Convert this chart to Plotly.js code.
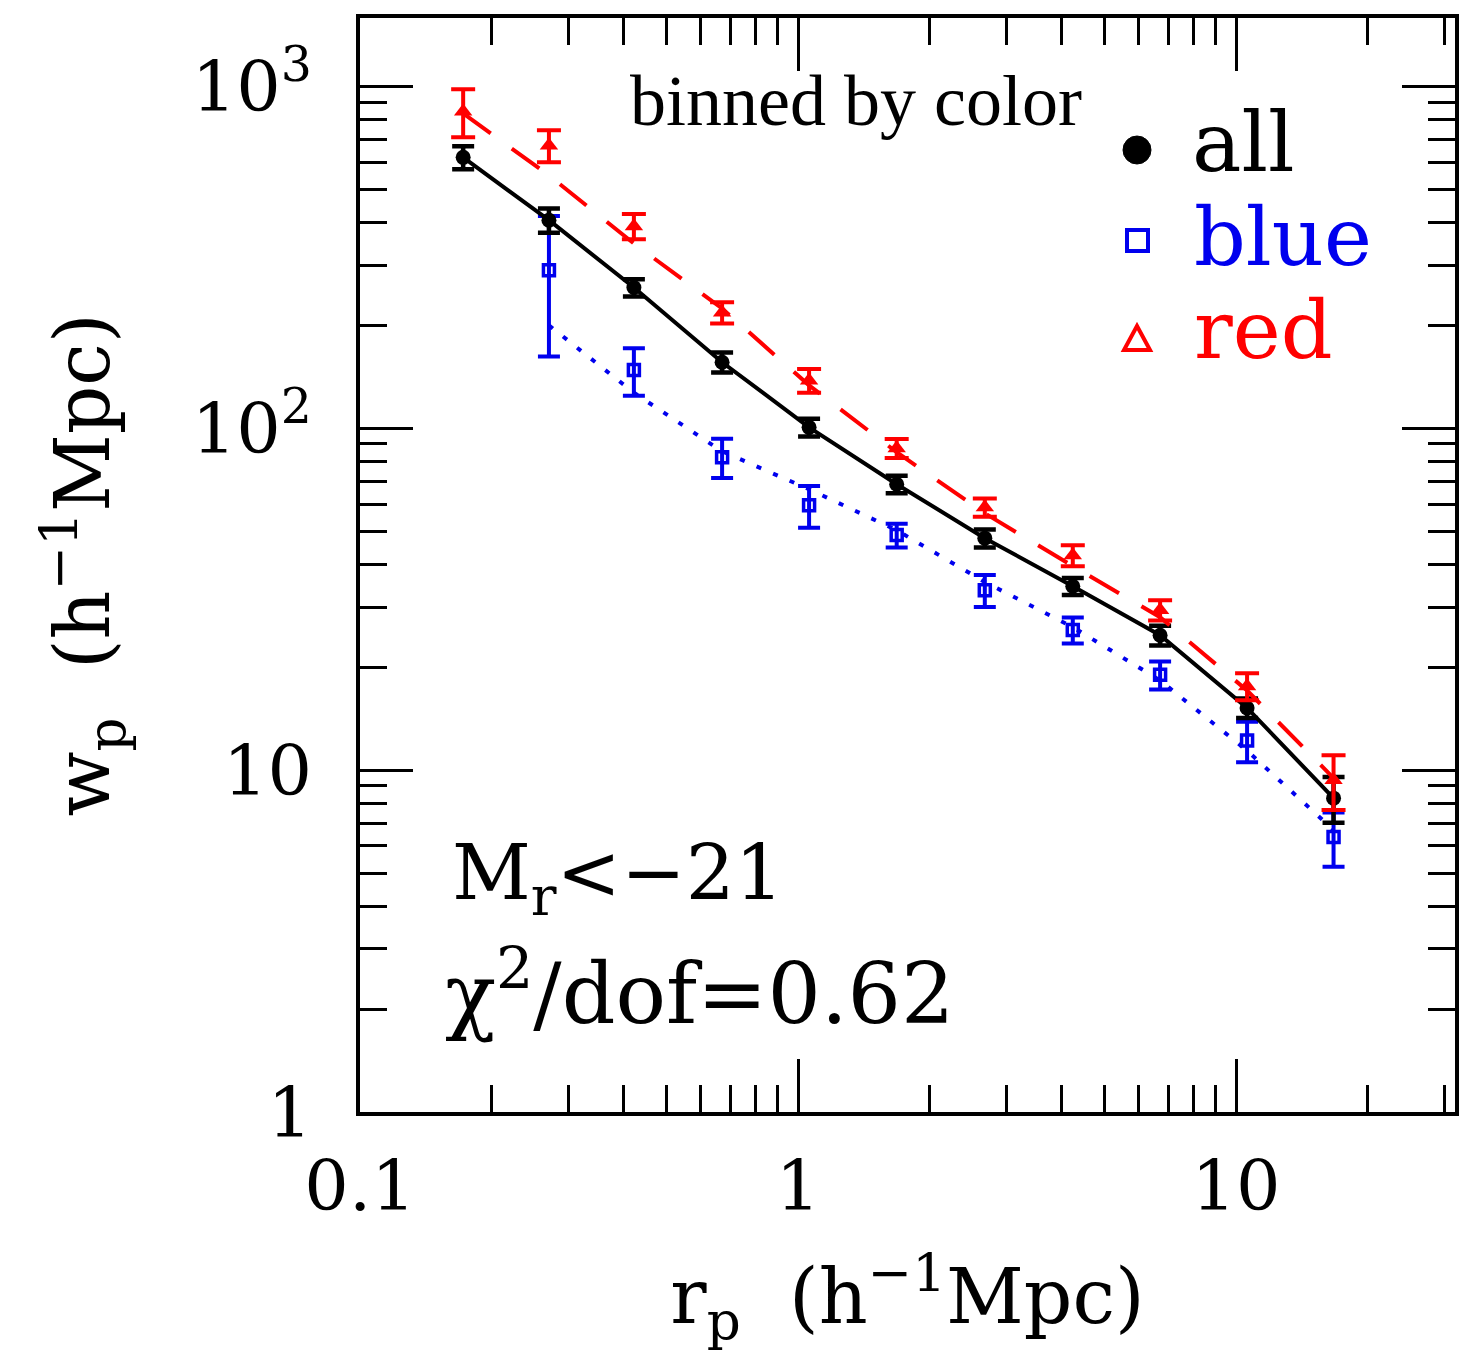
<!DOCTYPE html>
<html><head><meta charset="utf-8">
<script src="https://cdn.plot.ly/plotly-3.0.1.min.js"></script>
<style>html,body{margin:0;padding:0;background:#fff}#chart{width:1476px;height:1354px}</style>
</head><body><div id="chart"></div>
<script>
// projected separation r_p (h^-1 Mpc)
const rp = [0.172, 0.270, 0.422, 0.671, 1.06, 1.68, 2.67, 4.24, 6.71, 10.6, 16.7];
// all galaxies
const wpAll = [620, 406, 258, 156, 100.6, 68.6, 47.7, 34.5, 24.8, 15.2, 8.28];
const errAll = [48, 33, 15, 10.5, 6, 4, 2.9, 2, 1.65, 1.0, 1.27];
// red galaxies
const wpRed = [845, 672, 390, 218, 138, 87.4, 58.7, 42.5, 29.4, 17.6, 9.35];
const errRed = [135, 72, 33, 15.5, 11, 5.6, 3.6, 3, 2, 1.6, 1.7];
const modelRed = [834, 549, 347, 224, 133.5, 85.1, 56.4, 39.5, 28.0, 17.1, 9.48];
// blue galaxies
const rpBlue = [0.270, 0.422, 0.671, 1.06, 1.68, 2.67, 4.24, 6.71, 10.6, 16.7];
const wpBlue = [290, 148, 82.3, 59.5, 48.7, 33.6, 25.7, 19.0, 12.2, 6.37];
const errBlue = [128, 23.5, 10.8, 8.3, 3.9, 3.6, 2.25, 1.8, 1.65, 1.15];
const modelBlue = [200, 127, 85.6, 66.3, 50.3, 35.5, 26.2, 18.3, 11.4, 6.68];

// tick labels
const xTickVals = [0.1, 1, 10];
const xTickText = ['0.1', '1', '10'];
const yTickVals = [1, 10, 100, 1000];
const yTickText = ['1', '10', '10<sup>2</sup>', '10<sup>3</sup>'];

const xMinor = [], yMinor = [];
[0.1, 1, 10].forEach(d => { for (let k = 2; k <= 9; k++) xMinor.push(d * k); });
[1, 10, 100, 1000].forEach(d => { for (let k = 2; k <= 9; k++) yMinor.push(d * k); });

const F = 'DejaVu Serif, serif';
const BLUE = '#0000ee', RED = '#ff0000';

const traces = [
  { x: rpBlue, y: modelBlue, mode: 'lines', line: { color: BLUE, width: 4, dash: '5px,13px' }, hoverinfo: 'skip' },
  { x: rpBlue, y: wpBlue, mode: 'markers',
    marker: { symbol: 'square-open', size: 11, color: BLUE, line: { width: 3.5, color: BLUE } },
    error_y: { type: 'data', array: errBlue, color: BLUE, thickness: 4, width: 11 } },
  { x: rp, y: wpAll, mode: 'lines+markers', line: { color: 'black', width: 4 },
    marker: { symbol: 'circle', size: 15, color: 'black' },
    error_y: { type: 'data', array: errAll, color: 'black', thickness: 4.5, width: 11 } },
  { x: rp, y: modelRed, mode: 'lines', line: { color: RED, width: 4, dash: '34px,26px' }, hoverinfo: 'skip' },
  { x: rp, y: wpRed, mode: 'markers',
    marker: { symbol: 'triangle-up', size: 16, color: RED },
    error_y: { type: 'data', array: errRed, color: RED, thickness: 4, width: 12 } }
];

const axBase = {
  type: 'log', showgrid: false, zeroline: false, showline: true, linewidth: 4, linecolor: 'black',
  mirror: 'allticks', ticks: 'inside', ticklen: 53, tickwidth: 3, tickcolor: 'black',
  tickmode: 'array', tickfont: { family: F, size: 70, color: 'black' }
};

const X0 = 360, W = 1095, Y0 = 1112, H = 1094;
const px = v => (v - X0) / W, py = v => (Y0 - v) / H;

const layout = {
  width: 1476, height: 1354, margin: { l: 360, r: 21, t: 18, b: 242 },
  paper_bgcolor: 'white', plot_bgcolor: 'white', showlegend: false,
  xaxis: Object.assign({}, axBase, {
    range: [-1, 1.5], tickvals: xTickVals, ticktext: xTickText, ticklabelstandoff: 10,
    minor: { tickmode: 'array', tickvals: xMinor, ticks: 'inside', ticklen: 27, tickwidth: 3, tickcolor: 'black', showgrid: false },
    title: { text: 'r<sub>p</sub>  (h<sup>−1</sup>Mpc)', font: { family: F, size: 76, color: 'black' }, standoff: 45 }
  }),
  yaxis: Object.assign({}, axBase, {
    range: [0, 3.2], tickvals: yTickVals, ticktext: yTickText, ticklabelstandoff: 30,
    minor: { tickmode: 'array', tickvals: yMinor, ticks: 'inside', ticklen: 27, tickwidth: 3, tickcolor: 'black', showgrid: false },
    title: { text: 'w<sub>p</sub>  (h<sup>−1</sup>Mpc)', font: { family: F, size: 76, color: 'black' }, standoff: 58 }
  }),
  annotations: [
    { xref: 'paper', yref: 'paper', x: px(628), y: py(101), xanchor: 'left', yanchor: 'middle', showarrow: false,
      text: 'binned by color', font: { family: 'Liberation Serif, serif', size: 72, color: 'black' } },
    { xref: 'paper', yref: 'paper', x: px(1190), y: py(142), xanchor: 'left', yanchor: 'middle', showarrow: false,
      text: 'all', font: { family: F, size: 83, color: 'black' } },
    { xref: 'paper', yref: 'paper', x: px(1192), y: py(237), xanchor: 'left', yanchor: 'middle', showarrow: false,
      text: 'blue', font: { family: F, size: 81, color: BLUE } },
    { xref: 'paper', yref: 'paper', x: px(1192), y: py(330), xanchor: 'left', yanchor: 'middle', showarrow: false,
      text: 'red', font: { family: F, size: 81, color: RED } },
    { xref: 'paper', yref: 'paper', x: px(450), y: py(878), xanchor: 'left', yanchor: 'middle', showarrow: false,
      text: 'M<sub>r</sub><−21', font: { family: F, size: 77, color: 'black' } },
    { xref: 'paper', yref: 'paper', x: px(443), y: py(988), xanchor: 'left', yanchor: 'middle', showarrow: false,
      text: 'χ<sup>2</sup>/dof=0.62', font: { family: F, size: 84, color: 'black' } }
  ],
  shapes: [
    { type: 'circle', xref: 'paper', yref: 'paper', x0: px(1123), x1: px(1151), y0: py(164), y1: py(136),
      fillcolor: 'black', line: { color: 'black', width: 1 } },
    { type: 'rect', xref: 'paper', yref: 'paper', x0: px(1127), x1: px(1148), y0: py(251), y1: py(230),
      fillcolor: 'rgba(0,0,0,0)', line: { color: BLUE, width: 4 } },
    { type: 'path', xref: 'paper', yref: 'paper',
      path: 'M ' + px(1124) + ' ' + py(350) + ' L ' + px(1150) + ' ' + py(350) + ' L ' + px(1137) + ' ' + py(326) + ' Z',
      fillcolor: 'rgba(0,0,0,0)', line: { color: RED, width: 4 } }
  ]
};

Plotly.newPlot('chart', traces, layout, { displayModeBar: false, staticPlot: true });
</script>
</body></html>
